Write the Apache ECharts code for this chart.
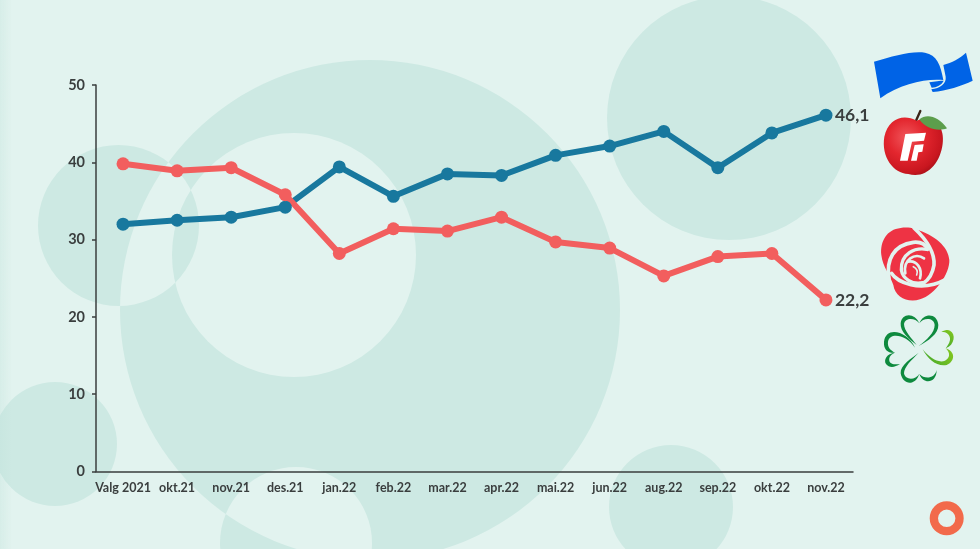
<!DOCTYPE html>
<html>
<head>
<meta charset="utf-8">
<style>
  html, body { margin: 0; padding: 0; background: #E2F3EF; }
  #chart { width: 980px; height: 549px; }
</style>
<script src="https://cdn.jsdelivr.net/npm/echarts@6/dist/echarts.min.js"></script>
</head>
<body>
<div id="chart"></div>
<script>
const categories = ['Valg 2021', 'okt.21', 'nov.21', 'des.21', 'jan.22', 'feb.22', 'mar.22', 'apr.22', 'mai.22', 'jun.22', 'aug.22', 'sep.22', 'okt.22', 'nov.22'];
const blueBloc = [32.0, 32.5, 32.9, 34.2, 39.4, 35.6, 38.5, 38.3, 40.9, 42.1, 44.0, 39.3, 43.8, 46.1];
const redBloc = [39.8, 38.9, 39.3, 35.8, 28.2, 31.4, 31.1, 32.9, 29.7, 28.9, 25.3, 27.8, 28.2, 22.2];
const yTicks = [0, 50, 10];

const BG = '#E2F3EF';
const DISC = '#CDE9E3';
const TEXT = '#3A3E3E';
const FONT = 'Lato, "Open Sans", sans-serif';

// Decorative discs: xor blending leaves overlaps in the page colour.
const discs = [
  [370, 310, 250], [294, 255, 122], [118.5, 225.5, 80.5],
  [729, 118, 122], [55, 444, 62], [671, 507, 62], [296, 543, 76]
].map(([cx, cy, r]) => ({
  type: 'circle', silent: true, z: -10,
  shape: { cx, cy, r },
  style: { fill: DISC, blend: 'xor' }
}));

// Slight darkening along the left edge.
const edge = {
  type: 'rect', silent: true, z: -9,
  shape: { x: 0, y: 0, width: 12, height: 549 },
  style: {
    fill: {
      type: 'linear', x: 0, y: 0, x2: 1, y2: 0,
      colorStops: [{ offset: 0, color: 'rgba(190,225,218,0.3)' }, { offset: 1, color: 'rgba(190,225,218,0)' }]
    }
  }
};

// Party marks, sketched in a 3x local space and registered as shapes.
let shapeCount = 0;
const mark = (ox, oy, pathData, style) => {
  const type = 'partyMark' + (shapeCount++);
  echarts.graphic.registerShape(type, echarts.graphic.extendPath(pathData, {}));
  return {
    type, silent: true, z: 5,
    x: ox, y: oy, scaleX: 1 / 3, scaleY: 1 / 3,
    style
  };
};
const line = (stroke, lineWidth) => ({ fill: 'none', stroke, lineWidth, lineCap: 'round' });

const flag = [
  mark(780, 30, 'M282,95 C340,78 395,62 435,68 C470,74 482,105 490,150 C440,145 360,160 301,205 Z', { fill: '#0063E6' }),
  mark(780, 30, 'M490,105 C515,98 540,85 558,68 L578,152 C545,168 500,182 458,186 L454,178 C480,175 500,160 497,140 Z', { fill: '#0063E6' }),
  mark(780, 30, 'M448,157 C465,154 480,152 491,152 C485,165 470,172 455,173 Z', { fill: '#0063E6' })
];

const apple = [
  mark(780, 30, 'M408,272 L421,243', line('#3A2418', 7)),
  mark(780, 30, 'M410,272 C370,250 325,265 313,320 C303,380 340,430 385,432 C400,436 420,436 435,428 C475,410 495,350 487,310 C480,270 440,260 410,272 Z', {
    fill: {
      type: 'radial', x: 0.38, y: 0.35, r: 0.72,
      colorStops: [
        { offset: 0, color: '#F0555A' },
        { offset: 0.45, color: '#E3262E' },
        { offset: 0.85, color: '#C8161F' },
        { offset: 1, color: '#A50F18' }
      ]
    }
  }),
  mark(780, 30, 'M418,268 C440,250 475,258 501,295 C475,306 435,296 418,268 Z', { fill: '#5C9E4C' }),
  mark(780, 30, 'M376,312 L438,308 L432,332 L396,335 L383,392 L360,392 Z', { fill: '#FFFFFF' }),
  mark(780, 30, 'M404,345 L431,343 L427,365 L415,367 L410,392 L393,392 Z', { fill: '#FFFFFF' })
];

const rose = [
  mark(780, 210, 'M362,54 C320,58 300,95 304,135 C308,170 330,195 340,225 C345,262 385,280 420,268 C465,255 510,190 508,150 C505,110 465,75 405,57 C390,52 375,52 362,54 Z', { fill: '#EE3344' }),
  mark(780, 210, 'M402,54 C430,80 465,120 462,165 C458,190 445,210 430,220', line(BG, 11)),
  mark(780, 210, 'M327,205 C318,150 340,105 400,97 C420,95 435,100 443,118', line(BG, 11)),
  mark(780, 210, 'M335,190 C350,215 420,250 498,208', line(BG, 11)),
  mark(780, 210, 'M440,118 C405,112 362,130 364,180 C368,205 395,225 428,218', line(BG, 10)),
  mark(780, 210, 'M432,145 C405,125 368,150 376,190', line(BG, 8)),
  mark(780, 210, 'M384,155 C410,150 428,175 420,205', line(BG, 8)),
  mark(780, 210, 'M400,170 C410,175 414,185 410,195', line(BG, 5))
];

const DARK_GREEN = '#0E8A3E';
const LIME = {
  type: 'linear', x: 0, y: 1, x2: 1, y2: 0,
  colorStops: [{ offset: 0, color: '#3FA62E' }, { offset: 1, color: '#86C81F' }]
};
const clover = [
  mark(780, 210, 'M410,405 C385,385 360,365 362,340 C365,308 405,308 418,340 C405,322 375,322 372,342 C372,362 395,385 410,405 Z', { fill: DARK_GREEN }),
  mark(780, 210, 'M416,408 C445,392 476,372 475,345 C472,308 430,308 418,340 C430,322 462,322 464,345 C464,368 440,390 416,408 Z', { fill: DARK_GREEN }),
  mark(780, 210, 'M405,413 C385,365 318,345 312,395 C310,420 325,430 345,428 C330,420 322,410 324,395 C330,365 380,375 405,413 Z', { fill: DARK_GREEN }),
  mark(780, 210, 'M345,428 C320,430 310,450 318,462 C328,475 345,472 360,462 C345,465 330,462 328,452 C326,440 335,432 345,428 Z', { fill: DARK_GREEN }),
  mark(780, 210, 'M416,428 C395,445 360,465 362,490 C368,525 405,530 418,492 C405,512 375,510 372,490 C372,470 395,450 416,428 Z', { fill: DARK_GREEN }),
  mark(780, 210, 'M418,492 C430,525 470,520 470,480 C465,505 435,510 418,492 Z', { fill: DARK_GREEN }),
  mark(780, 210, 'M428,418 C445,450 470,470 500,465 C525,455 528,425 497,415 C512,428 510,445 495,452 C475,460 450,445 428,418 Z', { fill: LIME }),
  mark(780, 210, 'M497,415 C525,405 528,370 510,362 C505,358 495,360 484,365 C500,365 512,375 510,390 C508,402 500,410 497,415 Z', { fill: LIME })
];

const ring = {
  type: 'ring', silent: true, z: 5,
  shape: { cx: 946.7, cy: 518.3, r: 17, r0: 8.7 },
  style: { fill: '#F26A4B' }
};

const makeSeries = (name, data, color) => ({
  name, data,
  type: 'line',
  symbol: 'circle',
  symbolSize: 13,
  showSymbol: true,
  smooth: false,
  animation: false,
  lineStyle: { color, width: 6 },
  itemStyle: { color },
  endLabel: {
    show: true,
    distance: 9,
    color: TEXT,
    fontFamily: FONT,
    fontWeight: 700,
    fontSize: 17.5,
    formatter: p => String(p.value).replace('.', ',')
  }
});

const chart = echarts.init(document.getElementById('chart'), null, { renderer: 'canvas' });
chart.setOption({
  backgroundColor: 'transparent',
  animation: false,
  grid: { left: 96, right: 127, top: 85, bottom: 77.5, containLabel: false },
  xAxis: {
    type: 'category',
    data: categories,
    boundaryGap: true,
    axisLine: { lineStyle: { color: TEXT, width: 1.5 } },
    axisTick: { show: false },
    axisLabel: { interval: 0, margin: 10, color: TEXT, fontFamily: FONT, fontWeight: 700, fontSize: 12.5 }
  },
  yAxis: {
    type: 'value',
    min: yTicks[0], max: yTicks[1], interval: yTicks[2],
    splitLine: { show: false },
    axisLine: { show: true, lineStyle: { color: TEXT, width: 1.5 } },
    axisTick: { show: true, length: 4, lineStyle: { color: TEXT, width: 1.5 } },
    axisLabel: { margin: 11, color: TEXT, fontFamily: FONT, fontWeight: 700, fontSize: 14.5 }
  },
  series: [
    makeSeries('Blå blokk', blueBloc, '#18789E'),
    makeSeries('Rød blokk', redBloc, '#F25E5E')
  ],
  graphic: { elements: [...discs, edge, ...flag, ...apple, ...rose, ...clover, ring] }
});
</script>
</body>
</html>
